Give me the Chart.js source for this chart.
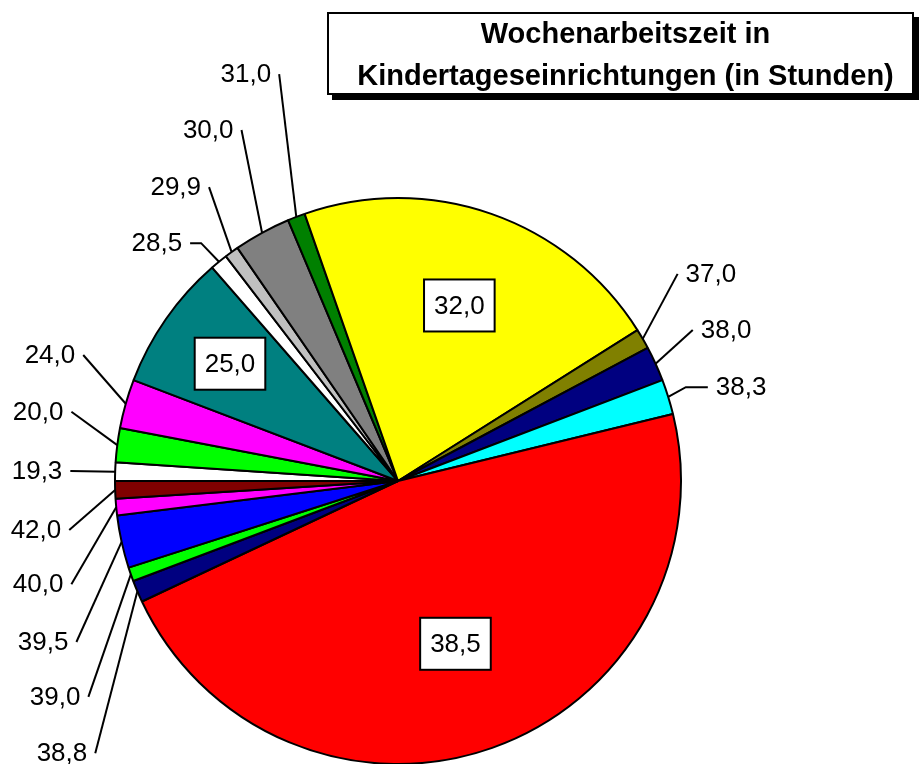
<!DOCTYPE html>
<html>
<head>
<meta charset="utf-8">
<script src="https://cdn.jsdelivr.net/npm/chart.js@4/dist/chart.umd.min.js"></script>
<style>
  html, body { margin: 0; padding: 0; background: #fff; }
  #wrap { position: relative; width: 924px; height: 764px; overflow: hidden; }
  #title {
    position: absolute; left: 327px; top: 12px; width: 573px; height: 79px;
    border: 2px solid #000; background: #fff; box-shadow: 5px 5px 0 #000;
    font: bold 29px "Liberation Sans", Arial, sans-serif; line-height: 42px;
    text-align: center; display: flex; flex-direction: column; justify-content: center;
    padding-left: 10px; box-sizing: content-box; white-space: nowrap;
  }
  canvas { position: absolute; left: 0; top: 0; }
</style>
</head>
<body>
<div id="wrap">
  <canvas id="chart-space" width="924" height="764"></canvas>
  <div id="title"><div>Wochenarbeitszeit in</div><div>Kindertageseinrichtungen (in Stunden)</div></div>
</div>
<script>
// categories = weekly hours, values = share of employees (in %)
const hourLabels = ['19,3', '20,0', '24,0', '25,0', '28,5', '29,9', '30,0', '31,0', '32,0',
    '37,0', '38,0', '38,3', '38,5', '38,8', '39,0', '39,5', '40,0', '42,0'];
const shareValues = [1.05, 1.95, 2.8, 7.8, 1.0, 0.8, 3.25, 1.0, 21.4,
    1.15, 2.0, 2.0, 46.8, 1.25, 0.8, 3.0, 0.95, 1.0];
const sliceColors = ['#ffffff', '#00ff00', '#ff00ff', '#008080', '#ffffff', '#c0c0c0', '#808080', '#008000', '#ffff00',
    '#808000', '#000080', '#00ffff', '#ff0000', '#000080', '#00ff00', '#0000ff', '#ff00ff', '#800000'];

// label placement: boxed labels sit inside the slice (fraction of radius along the slice middle),
// the rest sit outside at [angle in degrees clockwise from 3 o'clock, fraction of radius, elbow px]
const insideLabels = { 3: 0.724, 8: 0.657, 12: 0.61 };
const outsideLabels = {
    0: [181.6, 1.276, 0], 1: [190.9, 1.295, 0], 2: [199.9, 1.308, 0],
    4: [224.6, 1.197, 11], 5: [232.9, 1.302, 0], 6: [241.6, 1.41, 0], 7: [249.5, 1.535, 0],
    9: [326.5, 1.326, 0], 10: [335.3, 1.276, 0], 11: [344.7, 1.257, 22],
    13: [141.0, 1.528, 0], 14: [147.8, 1.432, 0], 15: [155.6, 1.377, 0], 16: [164.0, 1.323, 0], 17: [172.3, 1.291, 0]
};

const labelFont = '26px "Liberation Sans", Arial, sans-serif';

const sliceLabelPlugin = {
    id: 'sliceLabels',
    afterDatasetsDraw(chart) {
        const ctx = chart.ctx;
        const arcs = chart.getDatasetMeta(0).data;
        ctx.save();
        ctx.font = labelFont;
        ctx.textAlign = 'center';
        ctx.textBaseline = 'middle';
        ctx.lineWidth = 2;
        ctx.strokeStyle = '#000';
        arcs.forEach((arc, i) => {
            const {x, y, startAngle, endAngle, outerRadius} = arc.getProps(['x', 'y', 'startAngle', 'endAngle', 'outerRadius'], true);
            const mid = (startAngle + endAngle) / 2;
            const text = hourLabels[i];
            const w = ctx.measureText(text).width;
            if (insideLabels[i] !== undefined) {
                const r = outerRadius * insideLabels[i];
                const cx = x + Math.cos(mid) * r;
                const cy = y + Math.sin(mid) * r;
                const bw = w + 20, bh = 52;
                ctx.fillStyle = '#fff';
                ctx.fillRect(cx - bw / 2, cy - bh / 2, bw, bh);
                ctx.strokeRect(cx - bw / 2, cy - bh / 2, bw, bh);
                ctx.fillStyle = '#000';
                ctx.fillText(text, cx, cy + 1);
                return;
            }
            const place = outsideLabels[i];
            if (!place) return;
            const a = place[0] * Math.PI / 180;
            const tx = x + Math.cos(a) * outerRadius * place[1];
            const ty = y + Math.sin(a) * outerRadius * place[1];
            const leftSide = tx < x;
            const sx = leftSide ? tx + w / 2 + 8 : tx - w / 2 - 8;
            const ex = x + Math.cos(mid) * outerRadius;
            const ey = y + Math.sin(mid) * outerRadius;
            ctx.beginPath();
            ctx.moveTo(sx, ty);
            if (place[2]) ctx.lineTo(leftSide ? sx + place[2] : sx - place[2], ty);
            ctx.lineTo(ex, ey);
            ctx.stroke();
            ctx.fillStyle = '#000';
            ctx.fillText(text, tx, ty + 1);
        });
        ctx.restore();
    }
};

const chart = new Chart(document.querySelector('#chart-space').getContext('2d'), {
    type: 'pie',
    data: {
        labels: hourLabels,
        datasets: [{
            data: shareValues,
            backgroundColor: sliceColors,
            borderColor: '#000',
            borderWidth: 2
        }]
    },
    options: {
        responsive: false,
        animation: false,
        devicePixelRatio: 1,
        rotation: 270,
        radius: 283,
        layout: { padding: { left: 115, top: 198, right: 243, bottom: 0 } },
        plugins: {
            legend: { display: false },
            tooltip: { enabled: false }
        }
    },
    plugins: [sliceLabelPlugin]
});
</script>
</body>
</html>
